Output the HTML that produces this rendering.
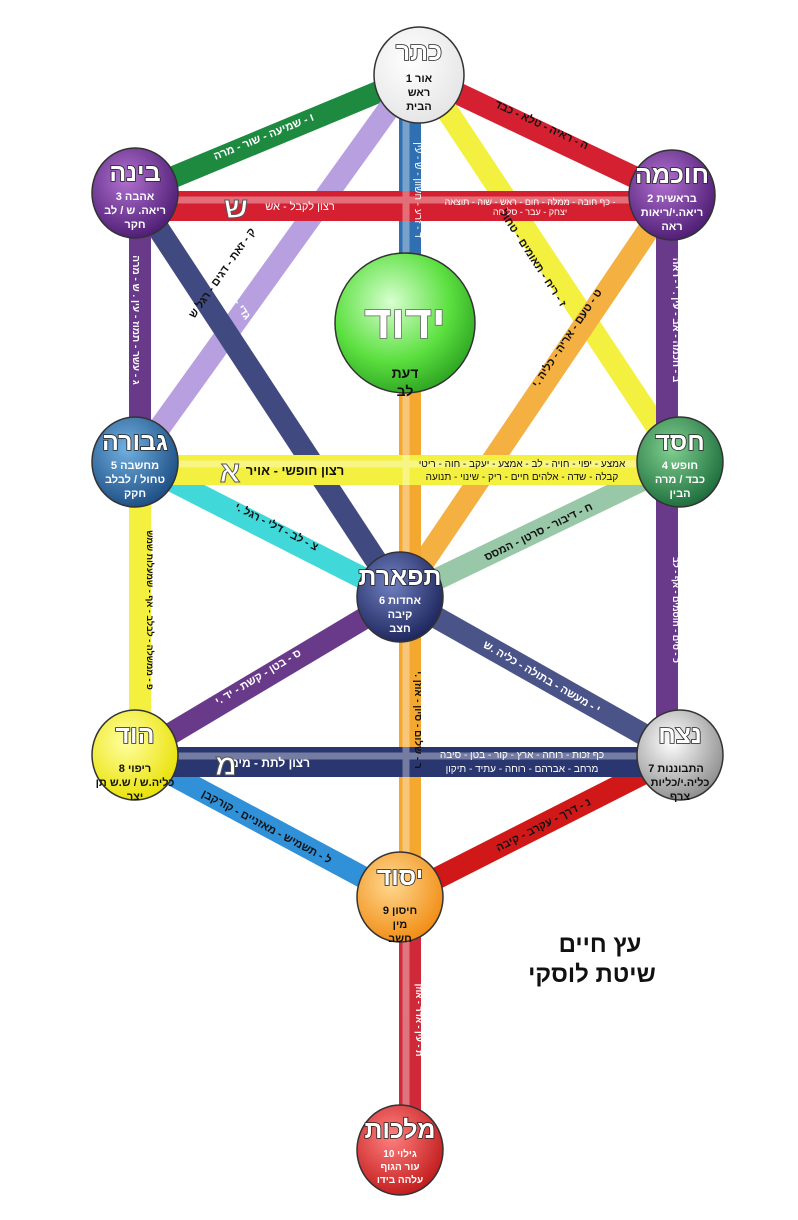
<!DOCTYPE html>
<html><head><meta charset="utf-8"><style>
html,body{margin:0;padding:0;background:#fff}
svg{display:block}
text{font-family:"Liberation Sans","Noto Sans CJK SC",sans-serif}
</style></head><body>
<svg width="798" height="1220" viewBox="0 0 798 1220" xmlns="http://www.w3.org/2000/svg">
<defs>
<radialGradient id="gW" cx="40%" cy="35%" r="70%"><stop offset="0" stop-color="#fff"/><stop offset="1" stop-color="#e4e4e4"/></radialGradient>
<radialGradient id="gP" cx="40%" cy="35%" r="70%"><stop offset="0" stop-color="#b070d0"/><stop offset="1" stop-color="#4a1a70"/></radialGradient>
<radialGradient id="gG" cx="40%" cy="35%" r="70%"><stop offset="0" stop-color="#d8ffd0"/><stop offset="0.6" stop-color="#5ce040"/><stop offset="1" stop-color="#2aa020"/></radialGradient>
<radialGradient id="gB" cx="40%" cy="35%" r="70%"><stop offset="0" stop-color="#70b0e0"/><stop offset="1" stop-color="#1a4a80"/></radialGradient>
<radialGradient id="gDG" cx="40%" cy="35%" r="70%"><stop offset="0" stop-color="#80d090"/><stop offset="1" stop-color="#1a6a3a"/></radialGradient>
<radialGradient id="gN" cx="40%" cy="35%" r="70%"><stop offset="0" stop-color="#7080c0"/><stop offset="1" stop-color="#1a2258"/></radialGradient>
<radialGradient id="gS" cx="40%" cy="35%" r="70%"><stop offset="0" stop-color="#fff"/><stop offset="1" stop-color="#8a8a8a"/></radialGradient>
<radialGradient id="gY" cx="40%" cy="35%" r="70%"><stop offset="0" stop-color="#ffffa0"/><stop offset="1" stop-color="#e8e000"/></radialGradient>
<radialGradient id="gO" cx="40%" cy="35%" r="70%"><stop offset="0" stop-color="#ffd890"/><stop offset="1" stop-color="#f08a10"/></radialGradient>
<radialGradient id="gR" cx="40%" cy="35%" r="70%"><stop offset="0" stop-color="#ff8080"/><stop offset="1" stop-color="#c01818"/></radialGradient>
</defs>
<g stroke-linecap="butt" fill="none">
<g stroke-width="22">
<line x1="419" y1="75" x2="672" y2="195" stroke="#d42030"/>
<line x1="419" y1="75" x2="135" y2="193" stroke="#1e8a40"/>
<line x1="440" y1="100" x2="680" y2="462" stroke="#f4f040"/>
<line x1="395" y1="100" x2="135" y2="462" stroke="#b8a0e0"/>
<line x1="410" y1="75" x2="410" y2="300" stroke="#3070b0"/>
<line x1="135" y1="193" x2="400" y2="597" stroke="#404a80"/>
<line x1="672" y1="195" x2="400" y2="597" stroke="#f4b040"/>
<line x1="410" y1="380" x2="410" y2="897" stroke="#f4a830"/>
<line x1="140" y1="193" x2="140" y2="462" stroke="#6a3a8a"/>
<line x1="667" y1="195" x2="667" y2="755" stroke="#6a3a8a"/>
<line x1="140" y1="462" x2="140" y2="755" stroke="#f4f040"/>
<line x1="135" y1="462" x2="400" y2="597" stroke="#40d8d8"/>
<line x1="680" y1="462" x2="400" y2="597" stroke="#98c8a8"/>
<line x1="135" y1="755" x2="400" y2="597" stroke="#6a3a8a"/>
<line x1="680" y1="755" x2="400" y2="597" stroke="#4a5488"/>
<line x1="135" y1="755" x2="400" y2="897" stroke="#3090d8"/>
<line x1="680" y1="755" x2="400" y2="897" stroke="#d01818"/>
<line x1="410" y1="897" x2="410" y2="1150" stroke="#d02a3a"/>
</g>
<g stroke-width="30">
<line x1="135" y1="206" x2="672" y2="206" stroke="#d42030"/>
<line x1="135" y1="470" x2="680" y2="470" stroke="#f4f040"/>
<line x1="135" y1="762" x2="680" y2="762" stroke="#2a3670"/>
</g>
<g stroke-width="7" stroke="#fff" opacity="0.35">
<line x1="135" y1="200" x2="672" y2="200"/>
<line x1="135" y1="464" x2="680" y2="464"/>
<line x1="135" y1="756" x2="680" y2="756"/>
<line x1="406" y1="75" x2="406" y2="300"/>
<line x1="406" y1="380" x2="406" y2="897"/>
<line x1="406" y1="897" x2="406" y2="1150"/>
</g>
</g>
<g font-size="11" font-weight="bold" fill="#111" text-anchor="middle">
<text transform="translate(265,140) rotate(-22)" fill="#fff">ו - שמיעה - שור - מרה</text>
<text transform="translate(540,128) rotate(25)" fill="#111">ה - ראיה - טלא - כבד</text>
<text transform="translate(415,190) rotate(90)" fill="#fff" font-size="10" font-weight="normal">ד - זרע - חשוון - ש - עין</text>
<text transform="translate(300,210)" fill="#fff" font-size="11" font-weight="normal">רצון לקבל - אש</text>
<text transform="translate(530,205)" fill="#fff" font-size="9" font-weight="normal">כף חובה - ממלה - חום - ראש - שוה - תוצאה -</text>
<text transform="translate(530,215)" fill="#fff" font-size="9" font-weight="normal">יצחק - עבר - סליחה</text>
<text transform="translate(225,275) rotate(-55)">ק - זאת - דגים - רגל ש</text>
<text transform="translate(245,320) rotate(57)" fill="#fff">ע - מוח - גדי - יד ש</text>
<text transform="translate(530,260) rotate(57)">ז - ריח - תאומים - טחול</text>
<text transform="translate(570,340) rotate(-56)">ט - טעם - אריה - כליה .י</text>
<text transform="translate(133,320) rotate(90)" fill="#fff" font-size="10">ג - עשר - תמוז - עין . ש - מרה</text>
<text transform="translate(673,320) rotate(90)" fill="#fff" font-size="10">ב - חכמה - אב - עין . י - ראה</text>
<text transform="translate(295,475)" font-size="13">רצון חופשי - אויר</text>
<text transform="translate(522,467)" font-size="10" font-weight="normal">אמצע - יפוי - חויה - לב - אמצע - יעקב - חוה - ריטי</text>
<text transform="translate(522,480)" font-size="10" font-weight="normal">קבלה - שדה - אלהים חיים - ריק - שינוי - תנועה</text>
<text transform="translate(275,530) rotate(27)">צ - לב - דלי - רגל .י</text>
<text transform="translate(540,535) rotate(-26)">ח - דיבור - סרטן - המסס</text>
<text transform="translate(147,610) rotate(90)" font-size="9">פ - ממשלה - לבלב - אף - שמעלות שמש</text>
<text transform="translate(673,610) rotate(90)" fill="#fff" font-size="9">כ - סים - חוסמים - אף - לב</text>
<text transform="translate(260,680) rotate(-31)" fill="#fff">ס - בטן - קשת - יד .י</text>
<text transform="translate(540,680) rotate(30)" fill="#fff">י - מעשה - בתולה - כליה .ש</text>
<text transform="translate(415,720) rotate(90)" font-size="10">ר - שלום - סיון - אוזן .י</text>
<text transform="translate(270,767)" fill="#fff" font-size="12">רצון לתת - מים</text>
<text transform="translate(522,758)" fill="#fff" font-size="10" font-weight="normal">כף זכות - רוחה - ארץ - קור - בטן - סיבה</text>
<text transform="translate(522,772)" fill="#fff" font-size="10" font-weight="normal">מרחב - אברהם - רוחה - עתיד - תיקון</text>
<text transform="translate(265,830) rotate(28)">ל - תשמיש - מאזניים - קורקבן</text>
<text transform="translate(545,828) rotate(-27)">נ - דרך - עקרב - קיבה</text>
<text transform="translate(416,1020) rotate(90)" fill="#fff" font-size="9">ת - עין - אדר - אוזן</text>
</g>
<g font-size="30" font-weight="bold" text-anchor="middle" fill="#fff" stroke="#555" stroke-width="1">
<text x="236" y="218">ש</text>
<text x="230" y="482">א</text>
<text x="226" y="775">מ</text>
</g>
<g stroke="#333" stroke-width="1.5">
<ellipse cx="419" cy="75" rx="45" ry="48" fill="url(#gW)"/>
<ellipse cx="135" cy="193" rx="43" ry="45" fill="url(#gP)"/>
<ellipse cx="672" cy="195" rx="43" ry="45" fill="url(#gP)"/>
<circle cx="405" cy="323" r="70" fill="url(#gG)"/>
<ellipse cx="135" cy="462" rx="43" ry="45" fill="url(#gB)"/>
<ellipse cx="680" cy="462" rx="43" ry="45" fill="url(#gDG)"/>
<ellipse cx="400" cy="597" rx="43" ry="45" fill="url(#gN)"/>
<ellipse cx="135" cy="755" rx="43" ry="45" fill="url(#gY)"/>
<ellipse cx="680" cy="755" rx="43" ry="45" fill="url(#gS)"/>
<ellipse cx="400" cy="897" rx="43" ry="45" fill="url(#gO)"/>
<ellipse cx="400" cy="1150" rx="43" ry="45" fill="url(#gR)"/>
</g>
<g text-anchor="middle" font-weight="bold">
<g font-size="25" fill="#fff" stroke="#222" stroke-width="1.6" paint-order="stroke">
<text x="419" y="60">כתר</text>
<text x="135" y="181">בינה</text>
<text x="672" y="183">חוכמה</text>
<text x="135" y="450">גבורה</text>
<text x="680" y="450">חסד</text>
<text x="400" y="585">תפארת</text>
<text x="135" y="743">הוד</text>
<text x="680" y="743">נצח</text>
<text x="400" y="885">יסוד</text>
<text x="400" y="1138">מלכות</text>
<text x="405" y="338" font-size="46" stroke="#666">ידוד</text>
</g>
<g font-size="11" fill="#111">
<text x="419" y="82">1 אור</text><text x="419" y="96">ראש</text><text x="419" y="110">הבית</text>
<text x="405" y="378" font-size="14">דעת</text><text x="405" y="396" font-size="14">לב</text>
<text x="676" y="772">התבוננות 7</text><text x="680" y="786">כליה.י/כליות</text><text x="680" y="800">צרף</text>
<text x="135" y="772">ריפוי 8</text><text x="135" y="786">כליה.ש / ש.ש תן</text><text x="135" y="800">יצר</text>
<text x="400" y="914">חיסון 9</text><text x="400" y="928">מין</text><text x="400" y="942">חשב</text>
</g>
<g font-size="11" fill="#fff">
<text x="135" y="200">אהבה 3</text><text x="135" y="214">ריאה. ש / לב</text><text x="135" y="228">חקר</text>
<text x="672" y="202">2 בראשית</text><text x="672" y="216">ריאה.י/ריאות</text><text x="672" y="230">ראה</text>
<text x="135" y="469">מחשבה 5</text><text x="135" y="483">טחול / לבלב</text><text x="135" y="497">חקק</text>
<text x="680" y="469">חופש 4</text><text x="680" y="483">כבד / מרה</text><text x="680" y="497">הבין</text>
<text x="400" y="604">אחדות 6</text><text x="400" y="618">קיבה</text><text x="400" y="632">חצב</text>
<text x="400" y="1157" font-size="10">גילוי 10</text><text x="400" y="1170" font-size="10">עור הגוף</text><text x="400" y="1183" font-size="10">עלהה בידו</text>
</g>
<text x="600" y="952" font-size="24" fill="#111">עץ חיים</text>
<text x="592" y="982" font-size="24" fill="#111">שיטת לוסקי</text>
</g>
</svg>
</body></html>
